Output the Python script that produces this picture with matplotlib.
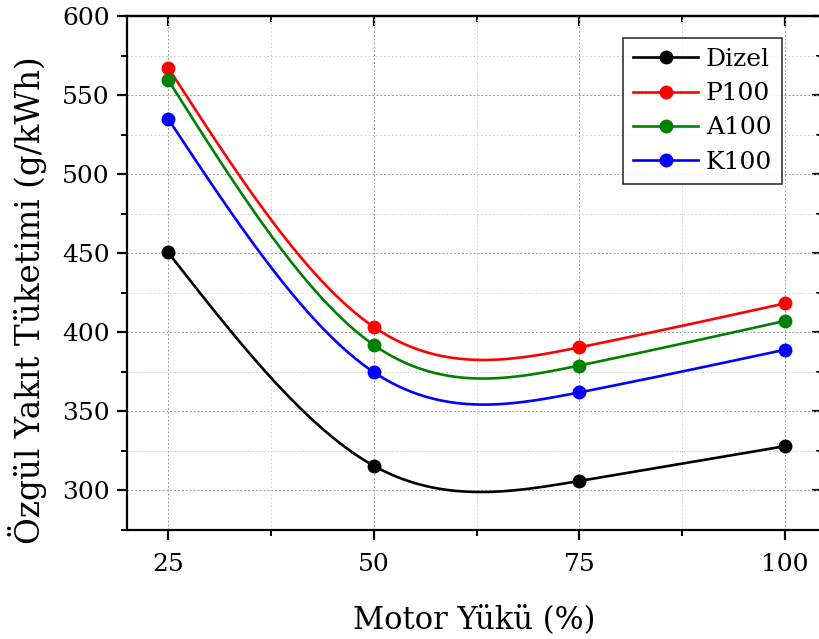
import numpy as np
import matplotlib
matplotlib.use("Agg")
import matplotlib.pyplot as plt
from matplotlib.ticker import MultipleLocator

load = [25, 50, 75, 100]
dizel = [450.5, 315.6, 306.0, 328.0]
p100 = [567.4, 403.4, 390.5, 418.3]
a100 = [559.6, 392.0, 379.0, 407.2]
k100 = [535.0, 374.8, 362.0, 389.0]

series_names = ["Dizel", "P100", "A100", "K100"]
series_vals = [dizel, p100, a100, k100]
colors = ["black", "red", "green", "blue"]


def natural_spline(x, y, xs):
    x = np.asarray(x, float)
    y = np.asarray(y, float)
    n = len(x)
    h = np.diff(x)
    A = np.zeros((n, n))
    b = np.zeros(n)
    A[0, 0] = 1
    A[-1, -1] = 1
    for i in range(1, n - 1):
        A[i, i - 1] = h[i - 1]
        A[i, i] = 2 * (h[i - 1] + h[i])
        A[i, i + 1] = h[i]
        b[i] = 6 * ((y[i + 1] - y[i]) / h[i] - (y[i] - y[i - 1]) / h[i - 1])
    M = np.linalg.solve(A, b)
    out = np.empty_like(xs)
    for k, xv in enumerate(xs):
        i = min(max(np.searchsorted(x, xv) - 1, 0), n - 2)
        t0 = x[i + 1] - xv
        t1 = xv - x[i]
        out[k] = (M[i] * t0 ** 3 / (6 * h[i]) + M[i + 1] * t1 ** 3 / (6 * h[i])
                  + (y[i] / h[i] - M[i] * h[i] / 6) * t0
                  + (y[i + 1] / h[i] - M[i + 1] * h[i] / 6) * t1)
    return out


plt.rcParams['font.family'] = ['DejaVu Serif']

fig = plt.figure(figsize=(8.2, 6.39), dpi=100)
ax = fig.add_axes([127 / 820, 1 - 530 / 639, (822 - 127) / 820, (530 - 16) / 639])

xs = np.linspace(load[0], load[-1], 400)
for name, vals, c in zip(series_names, series_vals, colors):
    ax.plot(xs, natural_spline(load, vals, xs), color=c, lw=1.9, zorder=3)
    ax.plot(load, vals, 'o', color=c, ms=9, zorder=4)
    ax.plot([], [], '-o', color=c, lw=1.9, ms=9, label=name)

ax.set_xlim(20, 104.5)
ax.set_ylim(275, 600)
ax.xaxis.set_major_locator(MultipleLocator(25))
ax.xaxis.set_minor_locator(MultipleLocator(12.5))
ax.yaxis.set_major_locator(MultipleLocator(50))
ax.yaxis.set_minor_locator(MultipleLocator(25))
ax.set_yticks([300, 350, 400, 450, 500, 550, 600])
ax.set_xticks([25, 50, 75, 100])

ax.grid(which='major', color='#9a9a9a', linestyle=(0, (2, 2)), lw=0.7)
ax.grid(which='minor', color='#c8c8c8', linestyle=(0, (1.5, 2.5)), lw=0.7)
ax.set_axisbelow(True)

for s in ax.spines.values():
    s.set_linewidth(1.6)

ax.tick_params(which='major', direction='out', length=7.5, width=1.6, labelsize=18,
               top=False, right=False, pad=5)
ax.tick_params(axis='x', which='major', pad=9)
ax.tick_params(which='minor', direction='out', length=4, width=1.4, top=False, right=False)

sec_t = ax.secondary_xaxis('top')
sec_t.xaxis.set_major_locator(MultipleLocator(25))
sec_t.xaxis.set_minor_locator(MultipleLocator(12.5))
sec_t.tick_params(which='major', direction='in', length=7, width=1.6, labeltop=False)
sec_t.tick_params(which='minor', direction='in', length=4, width=1.4)
sec_t.spines['top'].set_linewidth(1.6)
sec_r = ax.secondary_yaxis('right')
sec_r.yaxis.set_major_locator(MultipleLocator(50))
sec_r.yaxis.set_minor_locator(MultipleLocator(25))
sec_r.tick_params(which='major', direction='in', length=7, width=1.6, labelright=False)
sec_r.tick_params(which='minor', direction='in', length=4, width=1.4)

ax.set_xlabel("Motor Yükü (%)", fontsize=22, labelpad=20)
ax.set_ylabel("Özgül Yakıt Tüketimi (g/kWh)", fontsize=23.5)
ax.yaxis.set_label_coords(-0.115, 0.447)

leg = fig.legend(loc='upper right', bbox_to_anchor=(782 / 820, 1 - 38 / 639),
                 fontsize=18, frameon=True, fancybox=False, handlelength=2.6,
                 handletextpad=0.3, borderpad=0.4, labelspacing=0.45,
                 borderaxespad=0)
leg.get_frame().set_edgecolor('black')
leg.get_frame().set_linewidth(1.2)

fig.savefig("out.png", dpi=100)
